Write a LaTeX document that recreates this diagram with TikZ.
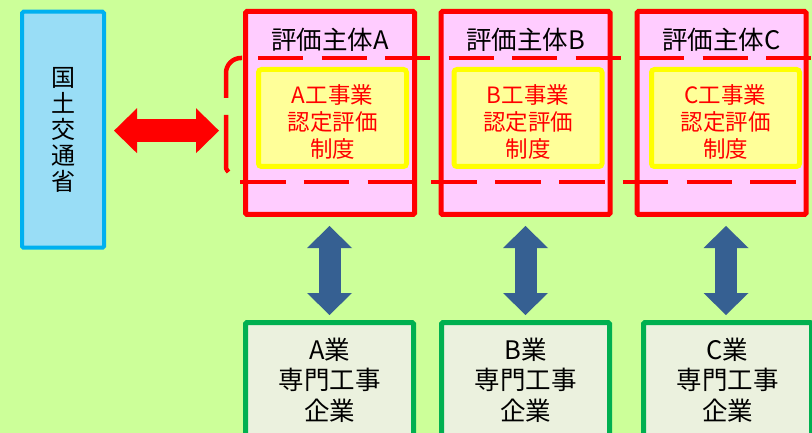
\documentclass[tikz,border=0pt]{standalone}
\usepackage{fontspec}
\setmainfont{Noto Sans CJK JP}
\usetikzlibrary{arrows.meta}
\definecolor{bg}{HTML}{CCFF99}
\definecolor{mlitline}{HTML}{00B0F0}
\definecolor{mlitfill}{HTML}{99DDF6}
\definecolor{redline}{HTML}{FF0000}
\definecolor{pinkfill}{HTML}{FFCCFF}
\definecolor{yelline}{HTML}{FFFF00}
\definecolor{yelfill}{HTML}{FFFF99}
\definecolor{grnline}{HTML}{00B050}
\definecolor{grnfill}{HTML}{EBF1DE}
\definecolor{bluearr}{HTML}{366092}
\newcommand{\topstrut}{\rule{0pt}{26pt}}
\begin{document}
\begin{tikzpicture}[x=1pt,y=-1pt,
  mlitbox/.style={draw=mlitline, fill=mlitfill, line width=4pt, rounded corners=1.5pt,
    minimum width=82pt, minimum height=236pt, align=center, inner sep=0pt,
    font=\fontsize{24}{26}\selectfont},
  evalbox/.style={draw=redline, fill=pinkfill, line width=5pt, rounded corners=1.5pt,
    minimum width=169pt, minimum height=203pt, inner sep=0pt},
  titletext/.style={font=\fontsize{25.5}{28}\selectfont, inner sep=0pt},
  sysbox/.style={draw=yelline, fill=yelfill, line width=5pt, rounded corners=3pt,
    minimum width=148pt, minimum height=97pt, align=center, inner sep=0pt,
    text=redline, font=\fontsize{22.5}{27}\selectfont},
  compbox/.style={draw=grnline, fill=grnfill, line width=5pt, rounded corners=1.5pt,
    minimum width=168pt, minimum height=115pt, align=center, inner sep=0pt,
    anchor=north, font=\fontsize{25.5}{30.5}\selectfont},
  dashline/.style={draw=redline, line width=4.5pt},
  redarrow/.style={draw=redline, line width=23pt,
    {Triangle[width=45pt,length=23pt,line width=0pt]}-{Triangle[width=45pt,length=23pt,line width=0pt]}},
  bluearrow/.style={draw=bluearr, line width=22pt,
    {Triangle[width=45pt,length=22pt,line width=0pt]}-{Triangle[width=45pt,length=22pt,line width=0pt]}}
]
\useasboundingbox (0,0) rectangle (812,433);
\fill[bg] (0,0) rectangle (812,433);
\begin{scope}
\clip (0,0) rectangle (812,433);

% left box
\node[mlitbox] (mlit) at (63,129.7) {国\\土\\交\\通\\省};

% evaluation bodies
\node[evalbox] (evA) at (330,113) {};
\node[evalbox] (evB) at (525.5,113) {};
\node[evalbox] (evC) at (721.5,113) {};
\node[titletext] (tA) at (330,40) {評価主体A};
\node[titletext] (tB) at (525.5,40) {評価主体B};
\node[titletext] (tC) at (721.5,40) {評価主体C};

% systems
\node[sysbox] (sA) at (332.5,118) {\topstrut A工事業\\認定評価\\制度};
\node[sysbox] (sB) at (528,118) {\topstrut B工事業\\認定評価\\制度};
\node[sysbox] (sC) at (725.5,118) {\topstrut C工事業\\認定評価\\制度};

% dashed bracket
\coordinate (brk) at (226,130.7);
\draw[dashline, rounded corners=15pt] (242,58) -- (226,58) -- (226,98);
\draw[dashline] (226,115) -- (226,165) .. controls (226,169) .. (228.5,172);
\draw[dashline, dash pattern=on 45pt off 18.5pt] (258,58) -- (830,58);
\draw[dashline, dash pattern=on 45.5pt off 18.3pt] (240,182) -- (830,182);

% companies
\node[compbox] (cA) at (329.5,320) {A業\\専門工事\\企業};
\node[compbox] (cB) at (525.5,320) {B業\\専門工事\\企業};
\node[compbox] (cC) at (727.5,320) {C業\\専門工事\\企業};

% arrows
\draw[redarrow, shorten <=8pt, shorten >=7pt] (mlit.east |- brk) -- (brk);
\draw[bluearrow, shorten <=9pt, shorten >=5pt] (evA.south -| cA.north) -- (cA.north);
\draw[bluearrow, shorten <=9pt, shorten >=5pt] (evB.south -| cB.north) -- (cB.north);
\draw[bluearrow, shorten <=9pt, shorten >=5pt] (evC.south -| 726,0) -- (726,320);
\end{scope}
\end{tikzpicture}
\end{document}
